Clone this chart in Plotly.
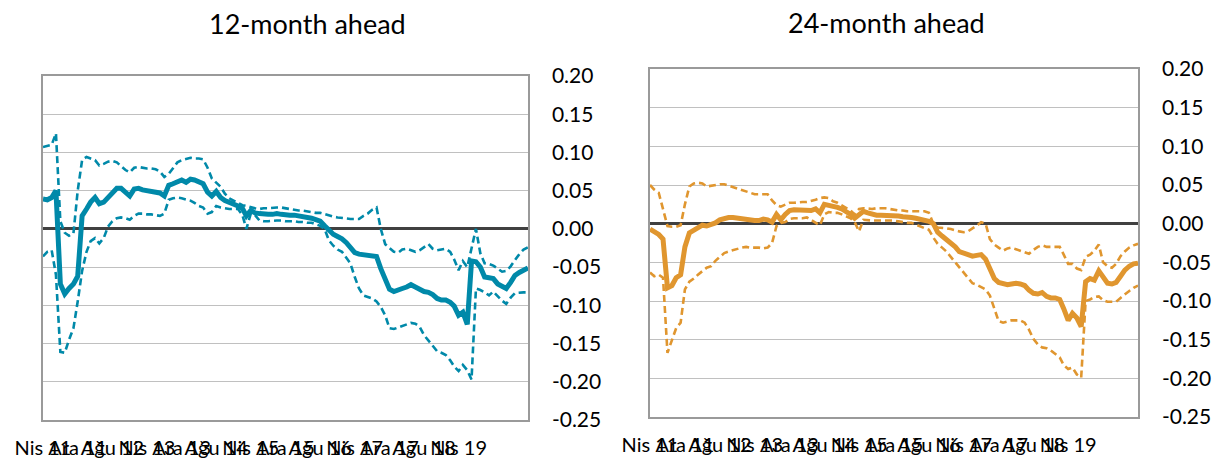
import pandas as pd
import plotly.graph_objects as go

# monthly observations, Nis 2011 onwards
months = pd.date_range("2011-04-01", periods=113, freq="MS")

tick_months = months[::8][:13]
tick_text = ["Nis 11", "Ara 11", "Ağu 12", "Nis 13", "Ara 13", "Ağu 14", "Nis 15",
             "Ara 15", "Ağu 16", "Nis 17", "Ara 17", "Ağu 18", "Nis 19"]

y_ticks = [-0.25, -0.20, -0.15, -0.10, -0.05, 0.00, 0.05, 0.10, 0.15, 0.20]
y_text = ["-0.25", "-0.20", "-0.15", "-0.10", "-0.05", "0.00", "0.05", "0.10", "0.15", "0.20"]

# 12-month ahead: estimate and band
sol12 = [0.039, 0.038, 0.041, 0.050, -0.072, -0.085, -0.078, -0.072,
         -0.062, 0.017, 0.026, 0.035, 0.041, 0.033, 0.035, 0.041,
         0.048, 0.053, 0.053, 0.048, 0.043, 0.052, 0.053, 0.051,
         0.050, 0.050, 0.049, 0.047, 0.043, 0.057, 0.059, 0.061,
         0.064, 0.061, 0.065, 0.064, 0.062, 0.059, 0.048, 0.043,
         0.049, 0.041, 0.037, 0.035, 0.033, 0.030, 0.027, 0.017,
         0.024, 0.021, 0.020, 0.019, 0.019, 0.019, 0.020, 0.019,
         0.018, 0.018, 0.018, 0.017, 0.017, 0.016, 0.014, 0.012,
         0.010, 0.004, -0.002, -0.007, -0.010, -0.013, -0.018, -0.025,
         -0.031, -0.033, -0.034, -0.035, -0.035, -0.036, -0.052, -0.067,
         -0.079, -0.082, -0.079, -0.078, -0.076, -0.073, -0.076, -0.079,
         -0.082, -0.083, -0.086, -0.091, -0.093, -0.093, -0.096, -0.101,
         -0.113, -0.109, -0.125, -0.042, -0.043, -0.050, -0.063, -0.064,
         -0.065, -0.072, -0.076, -0.078, -0.070, -0.061, -0.057, -0.054,
         -0.051]
up12 = [0.107, 0.108, 0.110, 0.125, 0.010, -0.005, -0.009, -0.006,
        0.050, 0.090, 0.094, 0.092, 0.090, 0.083, 0.085, 0.088,
        0.089, 0.087, 0.082, 0.077, 0.074, 0.080, 0.081, 0.080,
        0.079, 0.079, 0.078, 0.075, 0.068, 0.072, 0.080, 0.087,
        0.090, 0.092, 0.093, 0.092, 0.092, 0.091, 0.080, 0.066,
        0.060, 0.055, 0.046, 0.040, 0.037, 0.034, 0.031, 0.030,
        0.028, 0.027, 0.026, 0.027, 0.027, 0.028, 0.028, 0.028,
        0.027, 0.026, 0.025, 0.024, 0.024, 0.023, 0.022, 0.021,
        0.021, 0.019, 0.017, 0.016, 0.015, 0.014, 0.013, 0.013,
        0.013, 0.013, 0.017, 0.020, 0.025, 0.028, 0.000, -0.020,
        -0.025, -0.030, -0.031, -0.027, -0.026, -0.028, -0.030, -0.028,
        -0.024, -0.020, -0.026, -0.028, -0.027, -0.026, -0.030, -0.040,
        -0.054, -0.042, -0.050, -0.025, 0.000, -0.032, -0.045, -0.046,
        -0.048, -0.052, -0.056, -0.055, -0.049, -0.041, -0.033, -0.027,
        -0.024]
lo12 = [-0.036, -0.030, -0.028, -0.060, -0.161, -0.162, -0.145, -0.130,
        -0.095, -0.055, -0.030, -0.016, -0.012, -0.019, -0.012, 0.003,
        0.010, 0.014, 0.015, 0.014, 0.012, 0.017, 0.020, 0.020,
        0.019, 0.019, 0.018, 0.017, 0.020, 0.038, 0.040, 0.041,
        0.040, 0.038, 0.037, 0.034, 0.030, 0.028, 0.020, 0.022,
        0.030, 0.028, 0.027, 0.026, 0.026, 0.026, 0.018, 0.000,
        0.020, 0.018, 0.011, 0.010, 0.010, 0.011, 0.011, 0.011,
        0.010, 0.010, 0.010, 0.009, 0.009, 0.008, 0.008, 0.006,
        0.004, 0.000, -0.015, -0.022, -0.027, -0.030, -0.038, -0.045,
        -0.063, -0.078, -0.087, -0.089, -0.091, -0.095, -0.102, -0.113,
        -0.130, -0.131, -0.129, -0.127, -0.125, -0.123, -0.124, -0.128,
        -0.139, -0.146, -0.153, -0.160, -0.162, -0.165, -0.172, -0.180,
        -0.186, -0.178, -0.185, -0.197, -0.078, -0.080, -0.083, -0.087,
        -0.082, -0.088, -0.094, -0.098, -0.090, -0.084, -0.083, -0.083,
        -0.083]

# 24-month ahead: estimate and band
sol24 = [-0.007, -0.011, -0.014, -0.020, -0.083, -0.080, -0.070, -0.066,
         -0.030, -0.012, -0.008, -0.005, -0.002, -0.003, -0.001, 0.001,
         0.005, 0.007, 0.008, 0.008, 0.007, 0.006, 0.006, 0.005,
         0.004, 0.004, 0.006, 0.005, 0.002, 0.012, 0.005, 0.012,
         0.017, 0.018, 0.018, 0.017, 0.017, 0.017, 0.019, 0.014,
         0.025, 0.024, 0.022, 0.021, 0.019, 0.016, 0.012, 0.007,
         0.012, 0.016, 0.014, 0.012, 0.011, 0.011, 0.011, 0.011,
         0.010, 0.010, 0.009, 0.009, 0.008, 0.007, 0.006, 0.004,
         0.003, 0.000, -0.011, -0.016, -0.020, -0.024, -0.030, -0.036,
         -0.038, -0.041, -0.042, -0.041, -0.040, -0.046, -0.060, -0.071,
         -0.076, -0.078, -0.079, -0.078, -0.077, -0.078, -0.080, -0.086,
         -0.090, -0.091, -0.089, -0.094, -0.096, -0.096, -0.098, -0.110,
         -0.125, -0.116, -0.122, -0.133, -0.075, -0.071, -0.073, -0.061,
         -0.070, -0.077, -0.078, -0.076, -0.068, -0.060, -0.055, -0.052,
         -0.051]
up24 = [0.050, 0.044, 0.040, 0.020, -0.003, -0.004, -0.004, -0.002,
        0.025, 0.048, 0.052, 0.053, 0.052, 0.048, 0.049, 0.050,
        0.051, 0.051, 0.049, 0.047, 0.045, 0.043, 0.041, 0.040,
        0.038, 0.038, 0.038, 0.038, 0.030, 0.024, 0.022, 0.025,
        0.027, 0.027, 0.028, 0.028, 0.028, 0.029, 0.031, 0.033,
        0.034, 0.033, 0.029, 0.027, 0.024, 0.021, 0.017, 0.012,
        0.019, 0.020, 0.019, 0.019, 0.020, 0.020, 0.020, 0.019,
        0.018, 0.017, 0.017, 0.016, 0.016, 0.016, 0.016, 0.016,
        0.014, 0.000, -0.005, -0.006, -0.006, -0.007, -0.009, -0.010,
        -0.011, -0.010, -0.006, -0.003, 0.002, 0.000, -0.020, -0.027,
        -0.031, -0.035, -0.032, -0.031, -0.033, -0.035, -0.038, -0.039,
        -0.034, -0.030, -0.028, -0.030, -0.030, -0.030, -0.030, -0.040,
        -0.052, -0.052, -0.058, -0.060, -0.043, -0.040, -0.035, -0.027,
        -0.050, -0.055, -0.057, -0.052, -0.042, -0.036, -0.031, -0.028,
        -0.026]
lo24 = [-0.063, -0.068, -0.066, -0.070, -0.167, -0.150, -0.135, -0.128,
        -0.085, -0.075, -0.071, -0.066, -0.061, -0.057, -0.055, -0.048,
        -0.043, -0.038, -0.036, -0.034, -0.032, -0.031, -0.030, -0.031,
        -0.031, -0.031, -0.032, -0.031, -0.025, -0.003, 0.001, 0.002,
        0.006, 0.007, 0.007, 0.007, 0.008, 0.005, 0.001, -0.002,
        0.012, 0.015, 0.014, 0.014, 0.012, 0.010, 0.007, 0.002,
        -0.010, 0.005, 0.004, 0.004, 0.004, 0.004, 0.004, 0.004,
        0.004, 0.003, 0.002, 0.001, 0.001, -0.001, -0.003, -0.006,
        -0.008, -0.018, -0.026, -0.031, -0.036, -0.043, -0.050, -0.057,
        -0.063, -0.071, -0.077, -0.079, -0.082, -0.085, -0.093, -0.110,
        -0.126, -0.128, -0.126, -0.125, -0.125, -0.125, -0.128, -0.137,
        -0.149, -0.156, -0.160, -0.161, -0.164, -0.168, -0.173, -0.183,
        -0.188, -0.186, -0.195, -0.199, -0.100, -0.098, -0.095, -0.094,
        -0.099, -0.101, -0.101, -0.101, -0.096, -0.091, -0.087, -0.083,
        -0.080]

TEAL = "#0089A9"
ORANGE = "#E0962F"
FONT = "Lato, 'Open Sans', sans-serif"
W, H = 1213, 464

fig = go.Figure()

panels = [("x", "y", TEAL, sol12, up12, lo12), ("x2", "y2", ORANGE, sol24, up24, lo24)]
for xa, ya, col, sol, up, lo in panels:
    for band in (up, lo):
        fig.add_trace(go.Scatter(x=months, y=band, mode="lines", xaxis=xa, yaxis=ya,
                                 line=dict(color=col, width=2.6, dash="7px,4px"),
                                 showlegend=False, hoverinfo="skip"))
    fig.add_trace(go.Scatter(x=months, y=sol, mode="lines", xaxis=xa, yaxis=ya,
                             line=dict(color=col, width=5),
                             showlegend=False))


def xax(left, right, anchor):
    return dict(domain=[left / W, right / W], anchor=anchor, type="date",
                range=[months[0], months[-1]], automargin=False,
                tickmode="array", tickvals=tick_months, ticktext=tick_text, tickangle=0,
                ticklabeloverflow="allow",
                ticks="outside", ticklen=9, tickcolor="rgba(0,0,0,0)",
                tickfont=dict(family=FONT, size=20, color="#000"),
                showgrid=False, zeroline=False,
                showline=True, mirror=True, linecolor="#9A9A9A", linewidth=1.5)


def yax(top, bottom, anchor):
    return dict(domain=[1 - bottom / H, 1 - top / H], anchor=anchor, side="right",
                range=[-0.25, 0.20], automargin=False,
                tickmode="array", tickvals=y_ticks, ticktext=y_text,
                ticks="outside", ticklen=18, tickcolor="rgba(0,0,0,0)",
                tickfont=dict(family=FONT, size=21, color="#000"),
                showgrid=True, gridcolor="#C0C0C0", gridwidth=1,
                zeroline=True, zerolinecolor="#404040", zerolinewidth=2.5,
                showline=True, mirror=True, linecolor="#9A9A9A", linewidth=1.5)


fig.update_layout(
    width=W, height=H,
    margin=dict(l=0, r=0, t=0, b=0, autoexpand=False),
    plot_bgcolor="white", paper_bgcolor="white",
    xaxis=xax(43, 528, "y"), yaxis=yax(76, 420, "x"),
    xaxis2=xax(650, 1138, "y2"), yaxis2=yax(69, 417, "x2"),
    annotations=[
        dict(text="12-month ahead", x=307 / W, y=1 - 24 / H, xref="paper", yref="paper",
             showarrow=False, xanchor="center", yanchor="middle",
             font=dict(family=FONT, size=27, color="#000")),
        dict(text="24-month ahead", x=886 / W, y=1 - 22 / H, xref="paper", yref="paper",
             showarrow=False, xanchor="center", yanchor="middle",
             font=dict(family=FONT, size=27, color="#000")),
    ],
)

# the page's default body margin would shift the fixed-size figure
fig.write_html("out.html", config={"displayModeBar": False},
               post_script="document.body.style.margin='0';")
